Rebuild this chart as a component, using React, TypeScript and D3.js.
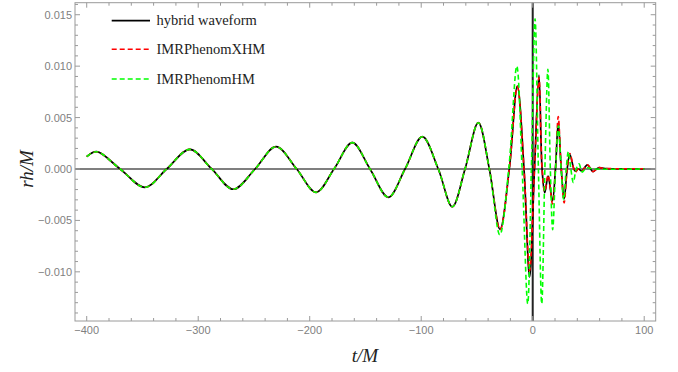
import React from "react";
import * as d3 from "d3";

// ---- data ----
const inspiralT = [-400, -391, -370, -347.7, -328.3, -307.4, -287.9, -268.5, -249, -230.2, -211.7, -194.3, -178.2, -161.8, -145.9, -129.5, -114.5, -99, -84.7, -72.1, -60.7, -48.8];
const inspiralH = [0.0012, 0.00168, 0, -0.00178, 0, 0.00191, 0, -0.00197, 0, 0.00217, 0, -0.00227, 0, 0.00256, 0, -0.00275, 0, 0.00314, 0, -0.00367, 0, 0.0045];

const hybridT = [-38.9, -29.3, -21, -13.8, -7.8, -2.8, 1.6, 5.6, 8.4, 10.8, 13.8, 17.7, 20.4, 22.9, 25.6, 28.2, 30.9, 33.3, 38, 41, 44, 49, 54, 59, 65, 100];
const hybridH = [0, -0.00586, 0, 0.00807, 0, -0.0105, 0, 0.00914, 0, -0.0023, -0.0007, -0.0031, 0, 0.0045, 0, -0.0029, 0, 0.0014, -0.0002, 0, -0.0002, 0.0004, -0.00025, 0.00012, 0.00005, 0.00002];

const xhmT = [-38.9, -29.3, -21, -13.8, -7.8, -2.8, 1.6, 5.6, 8.4, 10.8, 13.8, 17.7, 20.4, 22.9, 25.6, 28.2, 30.9, 33.3, 38.2, 41, 44, 49, 54, 59, 65, 100];
const xhmH = [0, -0.0059, 0, 0.0080, 0, -0.0099, 0, 0.0089, 0, -0.0022, -0.0006, -0.0034, 0, 0.0051, 0, -0.0033, 0, 0.0015, -0.0003, 0, -0.0002, 0.0004, -0.00025, 0.00012, 0.00005, 0.00002];

const hmT = [-38.9, -29.5, -21.5, -14.3, -9.5, -4.5, -1.2, 2.1, 5.1, 8.1, 10.9, 13.6, 15.8, 17.9, 20.5, 23, 25.5, 27.8, 30, 32, 34.2, 36.4, 39, 41.5, 44.5, 48, 55, 100];
const hmH = [0, -0.0064, 0, 0.0100, 0, -0.0131, 0, 0.0146, 0, -0.0131, 0, 0.0097, 0, -0.0059, 0, 0.0042, 0, -0.0030, 0, 0.0017, 0, -0.0013, 0, 0.0005, -0.0003, 0.0001, 0, 0];

const xMajorTicks = [-400, -300, -200, -100, 0, 100];
const yMajorTicks = [-0.01, -0.005, 0, 0.005, 0.01, 0.015];
const legendLabels = ["hybrid waveform", "IMRPhenomXHM", "IMRPhenomHM"];

const W = 678, H = 372;
const X0 = 75, X1 = 655.7, Y0 = 2.7, Y1 = 321;

function fmtY(v: number) {
  const s = Math.abs(v).toFixed(3);
  return (v < -1e-12 ? "\u2212" : "") + s;
}
function fmtX(v: number) {
  return (v < 0 ? "\u2212" : "") + Math.abs(v);
}

export default function App() {
  const x = d3.scaleLinear().domain([-410.5, 110.3]).range([X0, X1]);
  const y = d3.scaleLinear().domain([-0.01478, 0.01617]).range([Y1, Y0]);

  const line = d3
    .line<[number, number]>()
    .x((d) => x(d[0]))
    .y((d) => y(d[1]))
    .curve(d3.curveCatmullRom.alpha(0.5));

  const build = (t: number[], h: number[]) => {
    const pts: [number, number][] = inspiralT.map((tt, i) => [tt, inspiralH[i]]);
    t.forEach((tt, i) => pts.push([tt, h[i]]));
    return line(pts) || "";
  };

  const series = [
    { d: build(hybridT, hybridH), color: "#000000", dash: undefined as string | undefined, w: 1.7 },
    { d: build(xhmT, xhmH), color: "#ff0000", dash: "5,3", w: 1.6 },
    { d: build(hmT, hmH), color: "#00ff00", dash: "5,3", w: 1.6 },
  ];

  const xMinor = d3.range(-400, 101, 20).filter((v) => !xMajorTicks.includes(v));
  const yMinor = d3.range(-14, 17, 1).map((v) => v / 1000).filter((v) => !yMajorTicks.some((m) => Math.abs(m - v) < 1e-9));

  const frameColor = "#9a9a9a";
  const labelColor = "#7f7f7f";
  const majorLen = 5, minorLen = 3;

  return (
    <svg width={W} height={H} style={{ position: "absolute", left: 0, top: 0, background: "#fff" }}>
      <defs>
        <clipPath id="plotclip">
          <rect x={X0} y={Y0} width={X1 - X0} height={Y1 - Y0} />
        </clipPath>
      </defs>
      <rect x={0} y={0} width={W} height={H} fill="#fff" />

      {/* axis lines */}
      <line x1={X0} x2={X1} y1={y(0)} y2={y(0)} stroke="#555" strokeWidth={1.6} />
      <line x1={x(0)} x2={x(0)} y1={Y0} y2={Y1} stroke="#222" strokeWidth={2} />

      {/* curves */}
      <g clipPath="url(#plotclip)">
        {series.map((s, i) => (
          <path key={i} d={s.d} fill="none" stroke={s.color} strokeWidth={s.w} strokeDasharray={s.dash} strokeLinejoin="round" />
        ))}
      </g>

      {/* frame */}
      <rect x={X0} y={Y0} width={X1 - X0} height={Y1 - Y0} fill="none" stroke={frameColor} strokeWidth={1} />

      {/* x ticks */}
      {xMajorTicks.map((v) => (
        <g key={"xm" + v}>
          <line x1={x(v)} x2={x(v)} y1={Y1} y2={Y1 - majorLen} stroke={frameColor} />
          <line x1={x(v)} x2={x(v)} y1={Y0} y2={Y0 + majorLen} stroke={frameColor} />
          <text x={x(v)} y={334} textAnchor="middle" fontFamily="Liberation Sans, Arial, sans-serif" fontSize={11} fill={labelColor}>
            {fmtX(v)}
          </text>
        </g>
      ))}
      {xMinor.map((v) => (
        <g key={"xn" + v}>
          <line x1={x(v)} x2={x(v)} y1={Y1} y2={Y1 - minorLen} stroke={frameColor} />
          <line x1={x(v)} x2={x(v)} y1={Y0} y2={Y0 + minorLen} stroke={frameColor} />
        </g>
      ))}

      {/* y ticks */}
      {yMajorTicks.map((v) => (
        <g key={"ym" + v}>
          <line x1={X0} x2={X0 + majorLen} y1={y(v)} y2={y(v)} stroke={frameColor} />
          <line x1={X1} x2={X1 - majorLen} y1={y(v)} y2={y(v)} stroke={frameColor} />
          <text x={X0 - 3} y={y(v) + 4} textAnchor="end" fontFamily="Liberation Sans, Arial, sans-serif" fontSize={11} fill={labelColor}>
            {fmtY(v)}
          </text>
        </g>
      ))}
      {yMinor.map((v) => (
        <g key={"yn" + v}>
          <line x1={X0} x2={X0 + minorLen} y1={y(v)} y2={y(v)} stroke={frameColor} />
          <line x1={X1} x2={X1 - minorLen} y1={y(v)} y2={y(v)} stroke={frameColor} />
        </g>
      ))}

      {/* axis labels */}
      <text x={365} y={362} textAnchor="middle" fontFamily="Liberation Serif, Times New Roman, serif" fontStyle="italic" fontSize={19} fill="#222">
        t/M
      </text>
      <text transform={`translate(33,169) rotate(-90)`} textAnchor="middle" fontFamily="Liberation Serif, Times New Roman, serif" fontStyle="italic" fontSize={19} fill="#222">
        rh/M
      </text>

      {/* legend */}
      {series.map((s, i) => {
        const ly = [20.7, 49.3, 79][i];
        return (
          <g key={"lg" + i}>
            <line x1={111.7} x2={150} y1={ly} y2={ly} stroke={s.color} strokeWidth={s.w} strokeDasharray={s.dash} />
            <text x={156.5} y={ly + 4.5} fontFamily="Liberation Serif, Times New Roman, serif" fontSize={14.5} fill="#222">
              {legendLabels[i]}
            </text>
          </g>
        );
      })}
    </svg>
  );
}
